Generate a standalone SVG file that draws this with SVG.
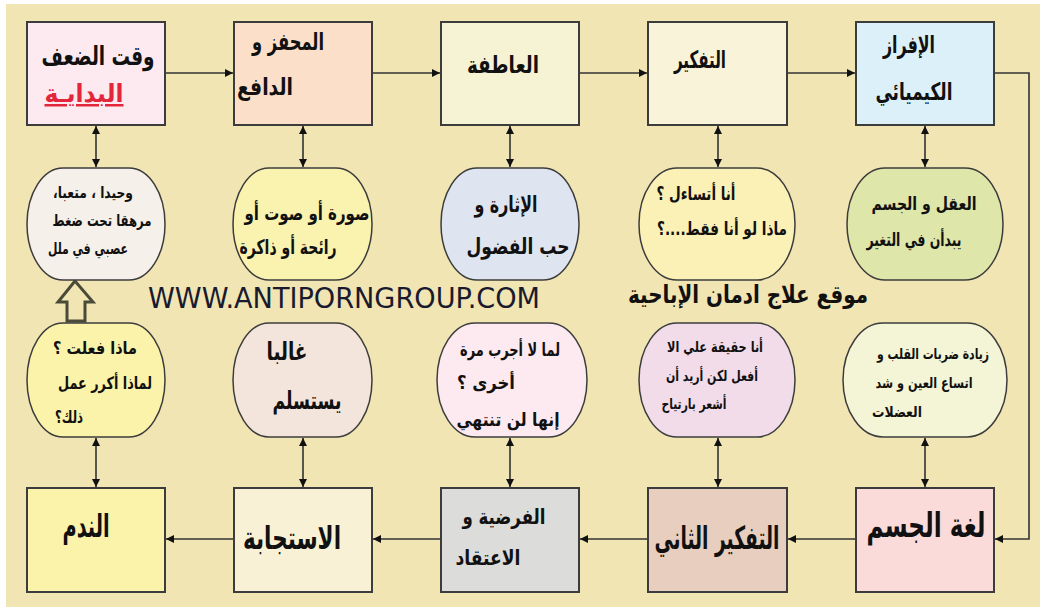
<svg xmlns="http://www.w3.org/2000/svg" width="1040" height="609" viewBox="0 0 1040 609">
<style>
.box{stroke:#3c3c3c;stroke-width:2}
.oval{stroke:#3c3c3c;stroke-width:1.5}
.t{font-family:"DejaVu Sans",sans-serif;font-weight:bold;fill:#111;text-anchor:middle}
.c{fill:none;stroke:#333;stroke-width:1.6}
.en{font-family:"DejaVu Sans",sans-serif;fill:#1a1a2e;text-anchor:start}
</style>
<defs>
<marker id="ah" viewBox="0 0 10 10" refX="10" refY="5" markerWidth="5" markerHeight="5" orient="auto-start-reverse" markerUnits="strokeWidth">
<path d="M0,0 L10,5 L0,10 Z" fill="#111"/>
</marker>
</defs>
<rect x="6" y="4" width="1034" height="603" fill="#f1e5b4"/>

<g id="connectors">
<path class="c" d="M165,73 H233" marker-end="url(#ah)"/>
<path class="c" d="M372,73 H440" marker-end="url(#ah)"/>
<path class="c" d="M579,73 H647" marker-end="url(#ah)"/>
<path class="c" d="M787,73 H855" marker-end="url(#ah)"/>
<path class="c" d="M994,73 H1029 V539 H995" marker-end="url(#ah)"/>
<path class="c" d="M856,539 H788" marker-end="url(#ah)"/>
<path class="c" d="M648,539 H580" marker-end="url(#ah)"/>
<path class="c" d="M441,539 H373" marker-end="url(#ah)"/>
<path class="c" d="M233,539 H166" marker-end="url(#ah)"/>
<path class="c" d="M96,126 V167" marker-start="url(#ah)" marker-end="url(#ah)"/>
<path class="c" d="M303,126 V167" marker-start="url(#ah)" marker-end="url(#ah)"/>
<path class="c" d="M510,126 V167" marker-start="url(#ah)" marker-end="url(#ah)"/>
<path class="c" d="M718,126 V167" marker-start="url(#ah)" marker-end="url(#ah)"/>
<path class="c" d="M925,126 V167" marker-start="url(#ah)" marker-end="url(#ah)"/>
<path class="c" d="M96,438 V487" marker-start="url(#ah)" marker-end="url(#ah)"/>
<path class="c" d="M303,438 V487" marker-start="url(#ah)" marker-end="url(#ah)"/>
<path class="c" d="M510,438 V487" marker-start="url(#ah)" marker-end="url(#ah)"/>
<path class="c" d="M718,438 V487" marker-start="url(#ah)" marker-end="url(#ah)"/>
<path class="c" d="M925,438 V487" marker-start="url(#ah)" marker-end="url(#ah)"/>
<polygon points="75,281 58,302 67,302 67,321 85,321 85,302 93,302" fill="#f1e5b4" stroke="#4a4a38" stroke-width="3" stroke-linejoin="miter"/>
</g>

<!-- top row boxes -->
<g id="n1">
<rect class="box" x="27" y="22" width="138" height="103" fill="#fdeaf0"/>
<text class="t" x="98" y="65" font-size="26" direction="rtl" textLength="113" lengthAdjust="spacingAndGlyphs">وقت الضعف</text>
<text class="t" x="84" y="102" font-size="25" direction="rtl" textLength="79" lengthAdjust="spacingAndGlyphs" style="fill:#e3263c" text-decoration="underline">البدايـة</text>
</g>
<g id="n2">
<rect class="box" x="234" y="22" width="138" height="103" fill="#fbdfc8"/>
<text class="t" x="288" y="50" font-size="24" direction="rtl" textLength="72" lengthAdjust="spacingAndGlyphs">المحفز و</text>
<text class="t" x="265" y="95" font-size="24" direction="rtl" textLength="56" lengthAdjust="spacingAndGlyphs">الدافع</text>
</g>
<g id="n3">
<rect class="box" x="441" y="22" width="138" height="103" fill="#f5f3d4"/>
<text class="t" x="503" y="73" font-size="24" direction="rtl" textLength="72" lengthAdjust="spacingAndGlyphs">العاطفة</text>
</g>
<g id="n4">
<rect class="box" x="648" y="22" width="139" height="103" fill="#f8f3d9"/>
<text class="t" x="700" y="68" font-size="24" direction="rtl" textLength="52" lengthAdjust="spacingAndGlyphs">التفكير</text>
</g>
<g id="n5">
<rect class="box" x="856" y="22" width="138" height="103" fill="#dcf0fa"/>
<text class="t" x="909" y="53" font-size="24" direction="rtl" textLength="52" lengthAdjust="spacingAndGlyphs">الإفراز</text>
<text class="t" x="914" y="100" font-size="24" direction="rtl" textLength="77" lengthAdjust="spacingAndGlyphs">الكيميائي</text>
</g>

<!-- top row ovals -->
<g id="e1">
<rect class="oval" x="27" y="168" width="138" height="112" rx="36" ry="56" fill="#f5f0ea"/>
<text class="t" x="93" y="198" font-size="16" direction="rtl" textLength="80" lengthAdjust="spacingAndGlyphs">وحيدا ، متعبا،</text>
<text class="t" x="102" y="226" font-size="16" direction="rtl" textLength="99" lengthAdjust="spacingAndGlyphs">مرهقا تحت ضغط</text>
<text class="t" x="88" y="254" font-size="16" direction="rtl" textLength="80" lengthAdjust="spacingAndGlyphs">عصبي في ملل</text>
</g>
<g id="e2">
<rect class="oval" x="233" y="168" width="139" height="112" rx="36" ry="56" fill="#faf3b0"/>
<text class="t" x="307" y="220" font-size="20" direction="rtl" textLength="125" lengthAdjust="spacingAndGlyphs">صورة أو صوت أو</text>
<text class="t" x="288" y="254" font-size="20" direction="rtl" textLength="97" lengthAdjust="spacingAndGlyphs">رائحة أو ذاكرة</text>
</g>
<g id="e3">
<rect class="oval" x="441" y="168" width="138" height="112" rx="36" ry="56" fill="#dfe5f0"/>
<text class="t" x="506" y="212" font-size="22" direction="rtl" textLength="63" lengthAdjust="spacingAndGlyphs">الإثارة و</text>
<text class="t" x="518" y="254" font-size="22" direction="rtl" textLength="103" lengthAdjust="spacingAndGlyphs">حب الفضول</text>
</g>
<g id="e4">
<rect class="oval" x="639" y="168" width="156" height="112" rx="38" ry="56" fill="#fbf0b6"/>
<text class="t" x="696" y="200" font-size="18" direction="rtl" textLength="79" lengthAdjust="spacingAndGlyphs">أنا أتساءل ؟</text>
<text class="t" x="722" y="235" font-size="18" direction="rtl" textLength="130" lengthAdjust="spacingAndGlyphs">ماذا لو أنا فقط....؟</text>
</g>
<g id="e5">
<rect class="oval" x="847" y="168" width="156" height="112" rx="38" ry="56" fill="#dfe6a9"/>
<text class="t" x="924" y="210" font-size="18" direction="rtl" textLength="105" lengthAdjust="spacingAndGlyphs">العقل و الجسم</text>
<text class="t" x="914" y="246" font-size="18" direction="rtl" textLength="95" lengthAdjust="spacingAndGlyphs">يبدأن في التغير</text>
</g>

<!-- watermark texts -->
<text class="en" x="148" y="308" font-size="28" textLength="392" lengthAdjust="spacingAndGlyphs">WWW.ANTIPORNGROUP.COM</text>
<text class="t" x="748" y="303" font-size="25" direction="rtl" textLength="240" lengthAdjust="spacingAndGlyphs">موقع علاج ادمان الإباحية</text>

<!-- bottom row ovals -->
<g id="f1">
<rect class="oval" x="27" y="323" width="138" height="114" rx="36" ry="57" fill="#faf3a9"/>
<text class="t" x="95" y="354" font-size="17" direction="rtl" textLength="84" lengthAdjust="spacingAndGlyphs">ماذا فعلت ؟</text>
<text class="t" x="105" y="389" font-size="17" direction="rtl" textLength="94" lengthAdjust="spacingAndGlyphs">لماذا أكرر عمل</text>
<text class="t" x="69" y="423" font-size="17" direction="rtl" textLength="28" lengthAdjust="spacingAndGlyphs">ذلك؟</text>
</g>
<g id="f2">
<rect class="oval" x="233" y="323" width="139" height="114" rx="36" ry="57" fill="#f3e4dc"/>
<text class="t" x="287" y="360" font-size="25" direction="rtl" textLength="41" lengthAdjust="spacingAndGlyphs">غالبا</text>
<text class="t" x="307" y="409" font-size="25" direction="rtl" textLength="69" lengthAdjust="spacingAndGlyphs">يستسلم</text>
</g>
<g id="f3">
<rect class="oval" x="437" y="323" width="150" height="114" rx="38" ry="57" fill="#fdeaf0"/>
<text class="t" x="510" y="356" font-size="18" direction="rtl" textLength="100" lengthAdjust="spacingAndGlyphs">لما لا أجرب مرة</text>
<text class="t" x="486" y="389" font-size="18" direction="rtl" textLength="58" lengthAdjust="spacingAndGlyphs">أخرى ؟</text>
<text class="t" x="508" y="426" font-size="18" direction="rtl" textLength="103" lengthAdjust="spacingAndGlyphs">إنها لن تنتهي</text>
</g>
<g id="f4">
<rect class="oval" x="639" y="323" width="156" height="114" rx="38" ry="57" fill="#f2dcea"/>
<text class="t" x="715" y="352" font-size="15" direction="rtl" textLength="96" lengthAdjust="spacingAndGlyphs">أنا حقيقة علي الا</text>
<text class="t" x="712" y="381" font-size="15" direction="rtl" textLength="92" lengthAdjust="spacingAndGlyphs">أفعل لكن أريد أن</text>
<text class="t" x="694" y="409" font-size="15" direction="rtl" textLength="65" lengthAdjust="spacingAndGlyphs">أشعر بارتياح</text>
</g>
<g id="f5">
<rect class="oval" x="843" y="323" width="164" height="114" rx="40" ry="57" fill="#f3f5d6"/>
<text class="t" x="933" y="359" font-size="15" direction="rtl" textLength="112" lengthAdjust="spacingAndGlyphs">زيادة ضربات القلب و</text>
<text class="t" x="924" y="388" font-size="15" direction="rtl" textLength="97" lengthAdjust="spacingAndGlyphs">اتساع العين و شد</text>
<text class="t" x="897" y="417" font-size="15" direction="rtl" textLength="50" lengthAdjust="spacingAndGlyphs">العضلات</text>
</g>

<!-- bottom row boxes -->
<g id="b1">
<rect class="box" x="27" y="488" width="138" height="104" fill="#faf3a9"/>
<text class="t" x="86" y="537" font-size="32" direction="rtl" textLength="47" lengthAdjust="spacingAndGlyphs">الندم</text>
</g>
<g id="b2">
<rect class="box" x="234" y="488" width="138" height="104" fill="#f8f1d5"/>
<text class="t" x="292" y="549" font-size="32" direction="rtl" textLength="98" lengthAdjust="spacingAndGlyphs">الاستجابة</text>
</g>
<g id="b3">
<rect class="box" x="441" y="488" width="138" height="104" fill="#dcdcdb"/>
<text class="t" x="504" y="524" font-size="21" direction="rtl" textLength="83" lengthAdjust="spacingAndGlyphs">الفرضية و</text>
<text class="t" x="488" y="565" font-size="21" direction="rtl" textLength="65" lengthAdjust="spacingAndGlyphs">الاعتقاد</text>
</g>
<g id="b4">
<rect class="box" x="648" y="488" width="139" height="104" fill="#e7cebf"/>
<text class="t" x="717" y="549" font-size="32" direction="rtl" textLength="125" lengthAdjust="spacingAndGlyphs">التفكير الثاني</text>
</g>
<g id="b5">
<rect class="box" x="856" y="488" width="138" height="104" fill="#fbdada"/>
<text class="t" x="926" y="537" font-size="34" direction="rtl" textLength="119" lengthAdjust="spacingAndGlyphs">لغة الجسم</text>
</g>
</svg>
